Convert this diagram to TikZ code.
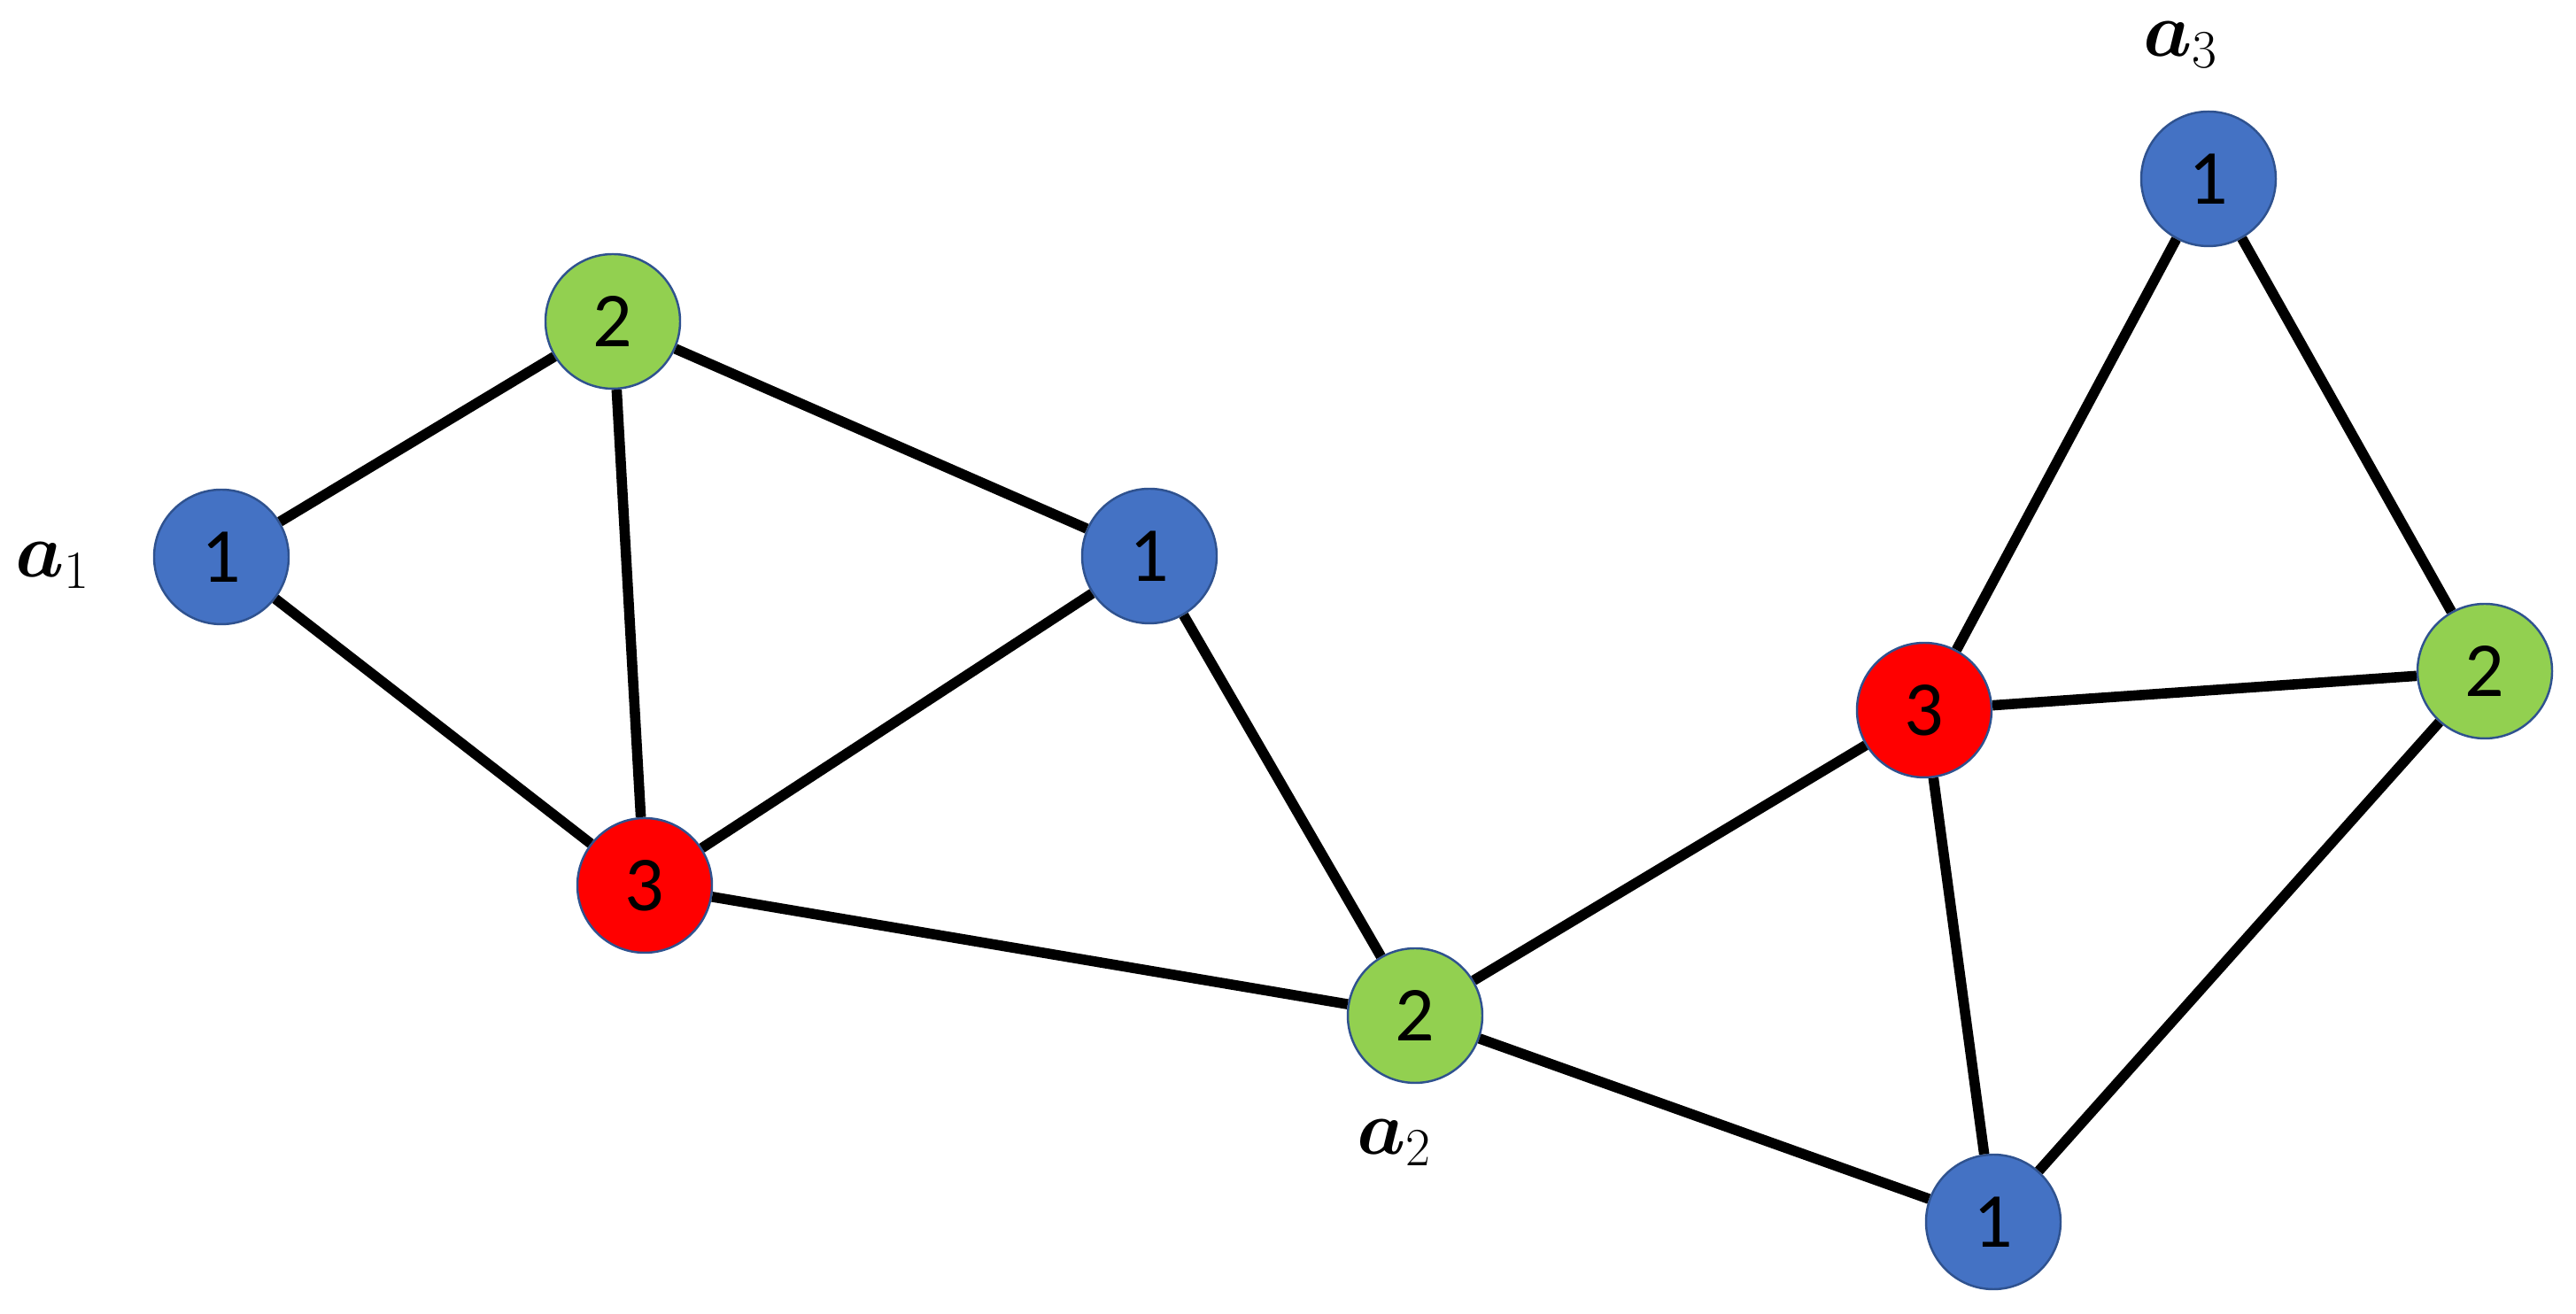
\documentclass[tikz,border=0pt]{standalone}
\usepackage{amsmath}
\usepackage{fontspec}
\newfontfamily\numfont{Carlito}
\definecolor{nblue}{HTML}{4472C4}
\definecolor{ngreen}{HTML}{92D050}
\definecolor{nred}{HTML}{FF0000}
\definecolor{nline}{HTML}{2F528F}
\begin{document}
\begin{tikzpicture}[x=1cm,y=1cm,
  vtx/.style={circle, draw=nline, line width=0.7pt, minimum size=1.52cm, inner sep=0pt, font=\numfont\fontsize{25}{29}\selectfont},
  bl/.style={vtx, fill=nblue},
  gr/.style={vtx, fill=ngreen},
  rd/.style={vtx, fill=nred},
  edge/.style={line width=3.3pt, black},
  lab/.style={inner sep=0pt, font=\fontsize{25}{30}\selectfont}]
\useasboundingbox (0,0) rectangle (29.09,14.84);
% nodes
\node[bl] (A) at (2.50,8.55) {1};
\node[gr] (B) at (6.92,11.21) {2};
\node[bl] (C) at (12.98,8.56) {1};
\node[rd] (D) at (7.28,4.84) {3};
\node[gr] (E) at (15.98,3.37) {2};
\node[rd] (F) at (21.73,6.82) {3};
\node[bl] (G) at (24.94,12.82) {1};
\node[gr] (H) at (28.06,7.26) {2};
\node[bl] (I) at (22.51,1.04) {1};
% labels
\node[lab] (la1) at (0.60,8.45) {$\boldsymbol{a}_1$};
\node[lab] (la2) at (15.75,1.93) {$\boldsymbol{a}_2$};
\node[lab] (la3) at (24.63,14.33) {$\boldsymbol{a}_3$};
% edges
\draw[edge] (A) -- (B);
\draw[edge] (A) -- (D);
\draw[edge] (B) -- (D);
\draw[edge] (B) -- (C);
\draw[edge] (C) -- (D);
\draw[edge] (C) -- (E);
\draw[edge] (D) -- (E);
\draw[edge] (E) -- (F);
\draw[edge] (E) -- (I);
\draw[edge] (F) -- (G);
\draw[edge] (G) -- (H);
\draw[edge] (F) -- (H);
\draw[edge] (F) -- (I);
\draw[edge] (H) -- (I);
\end{tikzpicture}
\end{document}
